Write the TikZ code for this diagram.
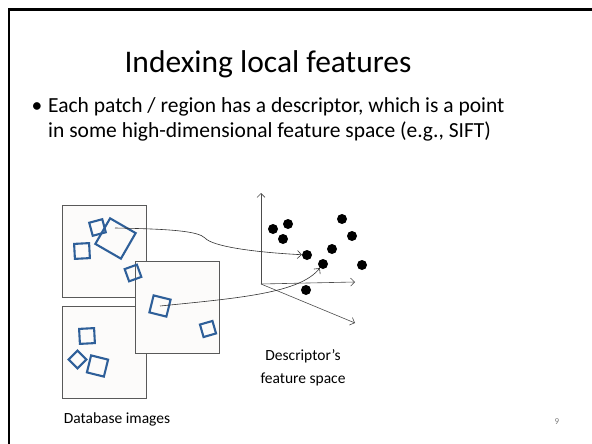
\documentclass[tikz,border=0pt]{standalone}
\usepackage{fontspec}
\setmainfont{Carlito}
\usetikzlibrary{arrows.meta}

\definecolor{patchblue}{HTML}{2E5F99}
\definecolor{framegray}{HTML}{595959}
\definecolor{imgwhite}{HTML}{FCFBFA}

\begin{document}
\begin{tikzpicture}[x=1pt, y=-1pt,
        patch/.style={draw=patchblue, line width=2.1pt, minimum size=#1, inner sep=0pt},
        dbimage/.style={draw=framegray, fill=imgwhite, line width=0.8pt, minimum width=84pt, minimum height=92pt, inner sep=0pt},
        feat/.style={circle, fill=black, minimum size=10pt, inner sep=0pt},
        axis/.style={draw=black!70, line width=0.6pt, -{Straight Barb[length=4pt, width=8pt]}},
        link/.style={draw=black!80, line width=0.6pt, -{Straight Barb[length=4pt, width=8pt]}},
        body/.style={font=\fontsize{21.5}{26}\selectfont, inner sep=0pt},
        caption/.style={font=\fontsize{15.5}{19}\selectfont, inner sep=0pt}]

        \fill[white] (0,0) rectangle (592,444);
        \useasboundingbox (0,0) rectangle (592,444);
        \draw[line width=2.5pt] (9,444) -- (9,9.5) -- (592,9.5);

        \node[font=\fontsize{31.5}{38}\selectfont, inner sep=0pt, anchor=base] (title) at (268,73) {Indexing local features};
        \node[body, anchor=base] (bul) at (37,112) {\textbullet};
        \node[body, anchor=base west] (l1) at (48,112) {Each patch / region has a descriptor, which is a point};
        \node[body, anchor=base west] (l2) at (48,137) {in some high-dimensional feature space (e.g., SIFT)};

        % database images
        \node[dbimage] (img1) at (104,251) {};
        \node[dbimage] (img3) at (104,352) {};
        \node[patch=13.5pt, rotate=15] (p1) at (97.5,227.5) {};
        \node[patch=29.5pt, rotate=-30] (p2) at (115.5,238.5) {};
        \node[patch=15pt, rotate=3] (p3) at (82,251) {};
        \node[patch=15pt, rotate=3] (p7) at (87,336) {};
        \node[patch=12.5pt, rotate=45] (p8) at (77.5,359.5) {};
        \node[patch=17.5pt, rotate=-14] (p9) at (97.5,366) {};
        \node[dbimage] (img2) at (177.5,307) {};
        \node[patch=13pt, rotate=20] (p4) at (133,273) {};
        \node[patch=17.5pt, rotate=-14] (p5) at (160,306) {};
        \node[patch=13pt, rotate=16] (p6) at (208,329) {};

        % feature space
        \coordinate (O) at (261,284);
        \coordinate (up) at (261,193);
        \coordinate (rt) at (355,282);
        \coordinate (dg) at (355,323);
        \draw[axis] (O) -- (up);
        \draw[axis] (O) -- (rt);
        \draw[axis] (O) -- (dg);

        \foreach \x/\y [count=\i] in {273/229, 288/224, 283/239, 342/219, 352/236, 332/249, 307/255, 323/264, 362/265, 306/290}
        {
            \node[feat] (d\i) at (\x,\y) {};
        }

        \coordinate (k1) at (115,228);
        \draw[link] (k1) .. controls (170,229) and (198,231) .. (205,238) .. controls (212,246) and (250,252) .. (d7);
        \draw[link] (p5.center) .. controls (240,298) and (300,293) .. (d8);

        \node[caption, anchor=base] (fs1) at (303,360) {Descriptor’s};
        \node[caption, anchor=base] (fs2) at (303,383) {feature space};
        \node[caption, anchor=base] (db) at (117,423) {Database images};
        \node[text=black!50, font=\fontsize{9}{10}\selectfont] (pg) at (557,422) {9};
    \end{tikzpicture}
\end{document}
